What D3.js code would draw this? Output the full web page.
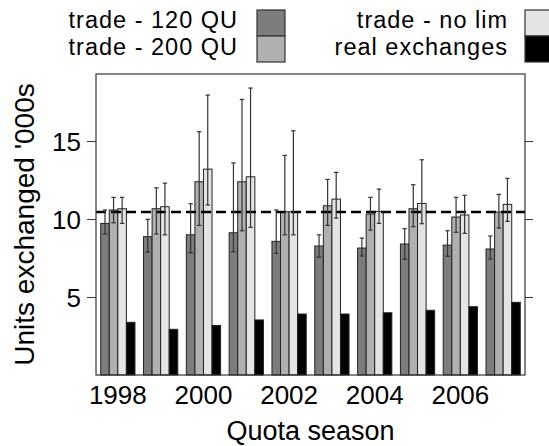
<!DOCTYPE html>
<html><head><meta charset="utf-8">
<script src="https://cdn.jsdelivr.net/npm/d3@7"></script>
<style>body{margin:0;background:#fff}svg{display:block}text{font-family:"Liberation Sans",Arial,sans-serif;fill:#000}</style>
</head><body><svg id="c" width="549" height="446"></svg>
<script>
const years = [1998,1999,2000,2001,2002,2003,2004,2005,2006,2007];
const tickLabels = ["1998","2000","2002","2004","2006"];
const seriesNames = ["trade - 120 QU","trade - 200 QU","trade - no lim","real exchanges"];
const seriesColors = ["#7d7d7d","#b0b0b0","#e4e4e4","#000000"];
const trade120   = [9.72,8.87,8.99,9.12,8.57,8.27,8.14,8.40,8.33,8.08];
const trade120Lo = [9.04,7.88,7.84,7.90,7.80,7.56,7.63,7.42,7.61,7.44];
const trade120Hi = [10.58,9.98,10.98,13.60,10.58,8.99,8.78,9.38,9.25,8.91];
const trade200   = [10.58,10.66,12.39,12.39,10.47,10.85,10.32,10.66,10.13,10.45];
const trade200Lo = [9.76,9.04,9.59,9.25,8.99,9.59,9.29,9.51,9.15,9.42];
const trade200Hi = [11.39,12.00,15.60,17.67,14.08,12.54,11.39,12.20,11.39,11.58];
const tradeNoLim   = [10.66,10.79,13.20,12.71,10.47,11.28,10.49,11.00,10.26,10.94];
const tradeNoLimLo = [9.72,8.99,10.90,9.47,8.99,10.06,9.72,9.70,9.08,9.85];
const tradeNoLimHi = [11.39,12.30,17.95,18.40,15.66,12.99,11.92,13.80,11.52,12.61];
const realExchanges = [3.38,2.93,3.18,3.53,3.91,3.91,3.99,4.15,4.38,4.66];
const refLine = 10.45;
const yTicks = [5,10,15];

const svg = d3.select("#c");
const L=96, R=525, T=74, B=375;
const x = d3.scaleBand().domain(years).range([L,R]).paddingInner(0.2).paddingOuter(0.11);
const xi = d3.scaleBand().domain(d3.range(4)).range([0,x.bandwidth()]);
const y = d3.scaleLinear().domain([0,19.3]).range([B,T]);

const series = [
  {v:trade120, lo:trade120Lo, hi:trade120Hi},
  {v:trade200, lo:trade200Lo, hi:trade200Hi},
  {v:tradeNoLim, lo:tradeNoLimLo, hi:tradeNoLimHi},
  {v:realExchanges}
];

const g = svg.append("g");
series.forEach((s,si)=>{
  g.selectAll(null).data(years).enter().append("rect")
    .attr("x",d=>x(d)+xi(si)).attr("width",xi.bandwidth())
    .attr("y",(d,i)=>y(s.v[i])).attr("height",(d,i)=>y(0)-y(s.v[i]))
    .attr("fill",seriesColors[si]).attr("stroke","#222").attr("stroke-width",1);
});
svg.append("line").attr("x1",L).attr("x2",R).attr("y1",y(refLine)).attr("y2",y(refLine))
  .attr("stroke","#000").attr("stroke-width",2.5).attr("stroke-dasharray","10,5");
series.forEach((s,si)=>{
  if(!s.lo) return;
  years.forEach((yr,i)=>{
    const cx = x(yr)+xi(si)+xi.bandwidth()/2;
    const e = svg.append("g").attr("stroke","#333").attr("stroke-width",1.2);
    e.append("line").attr("x1",cx).attr("x2",cx).attr("y1",y(s.lo[i])).attr("y2",y(s.hi[i]));
    e.append("line").attr("x1",cx-2.2).attr("x2",cx+2.2).attr("y1",y(s.lo[i])).attr("y2",y(s.lo[i]));
    e.append("line").attr("x1",cx-2.2).attr("x2",cx+2.2).attr("y1",y(s.hi[i])).attr("y2",y(s.hi[i]));
  });
});
svg.append("rect").attr("x",L).attr("y",T).attr("width",R-L).attr("height",B-T)
  .attr("fill","none").attr("stroke","#333").attr("stroke-width",1.2);
const yl = svg.append("g").attr("transform",`translate(${L},0)`)
  .call(d3.axisLeft(y).tickValues(yTicks).tickSize(9).tickPadding(6));
yl.select(".domain").remove();
yl.selectAll("line").attr("stroke","#333");
yl.selectAll("text").attr("font-size",26).attr("dy","0.36em");
const yr = svg.append("g").attr("transform",`translate(${R},0)`)
  .call(d3.axisRight(y).tickValues(yTicks).tickSize(8).tickFormat(""));
yr.select(".domain").remove();
yr.selectAll("line").attr("stroke","#333");
const xl = svg.append("g").attr("transform",`translate(0,${B})`)
  .call(d3.axisBottom(x).tickValues(tickLabels.map(Number)).tickSize(0).tickPadding(11));
xl.select(".domain").remove();
xl.selectAll("text").attr("font-size",26).attr("dy","0.71em");
svg.append("text").attr("x",(L+R)/2).attr("y",439.5).attr("text-anchor","middle")
  .attr("font-size",27).text("Quota season");
svg.append("text").attr("transform",`translate(33.5,${(T+B)/2}) rotate(-90)`).attr("text-anchor","middle")
  .attr("font-size",28).text("Units exchanged '000s");
const legTextX = [238,508], legBoxX = [257,525];
seriesNames.forEach((n,i)=>{
  const col = i<2?0:1, row = i%2;
  svg.append("text").attr("x",legTextX[col]).attr("y",27.5+row*27).attr("text-anchor","end")
    .attr("font-size",23.5).attr("letter-spacing",1).text(n);
  svg.append("rect").attr("x",legBoxX[col]).attr("y",10+row*26).attr("width",28).attr("height",26)
    .attr("fill",seriesColors[i]).attr("stroke","#333").attr("stroke-width",1.2);
});
</script></body></html>
